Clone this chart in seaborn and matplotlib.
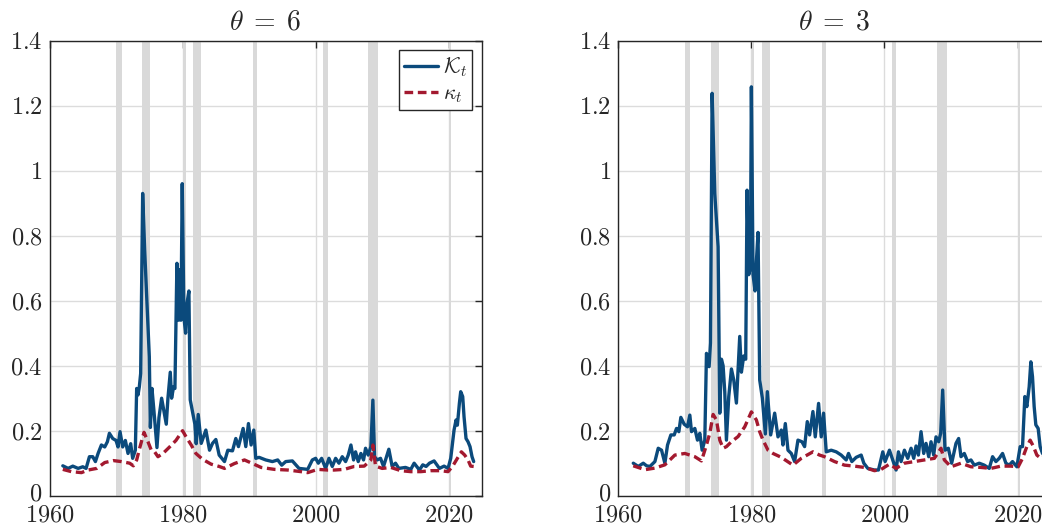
import numpy as np
import pandas as pd
import matplotlib
matplotlib.use("Agg")
import matplotlib.pyplot as plt
import matplotlib.transforms as mtransforms
import seaborn as sns

# ---------------- data ----------------
K6_year = [1962.0, 1962.8, 1963.5, 1964.3, 1965.0, 1965.5, 1966.0, 1966.5, 1966.9, 1967.3,
           1967.8, 1968.3, 1968.7, 1969.0, 1969.5, 1970.0, 1970.3, 1970.6, 1971.0, 1971.4,
           1971.8, 1972.2, 1972.5, 1972.9, 1973.1, 1973.3, 1973.5, 1973.7, 1974.0, 1974.3,
           1974.65, 1975.0, 1975.16, 1975.4, 1975.7, 1976.15, 1976.45, 1976.85, 1977.2, 1977.55,
           1977.8, 1978.15, 1978.35, 1978.65, 1978.85, 1979.15, 1979.4, 1979.55, 1979.75, 1979.95,
           1980.2, 1980.45, 1980.65, 1980.95, 1981.15, 1981.55, 1981.85, 1982.05, 1982.35, 1982.8,
           1983.5, 1984.05, 1984.5, 1985.0, 1985.5, 1986.3, 1986.8, 1987.5, 1988.0, 1988.4,
           1989.1, 1989.5, 1989.9, 1990.3, 1990.7, 1991.0, 1991.5, 1992.5, 1993.5, 1994.3,
           1994.9, 1995.5, 1996.5, 1997.5, 1998.8, 1999.5, 2000.0, 2000.4, 2000.9, 2001.5,
           2002.0, 2002.5, 2003.0, 2003.5, 2004.0, 2004.5, 2004.9, 2005.3, 2005.7, 2006.0,
           2006.4, 2006.8, 2007.2, 2007.5, 2007.9, 2008.3, 2008.6, 2008.85, 2009.25, 2009.75,
           2010.2, 2011.0, 2011.5, 2012.0, 2012.5, 2013.5, 2014.3, 2014.8, 2015.6, 2016.1,
           2016.6, 2017.1, 2017.8, 2018.6, 2019.3, 2019.9, 2020.3, 2020.8, 2021.1, 2021.3,
           2021.6, 2021.8, 2022.1, 2022.3, 2022.6, 2022.9, 2023.2, 2023.5, 2023.75]
K6_val = [0.092, 0.084, 0.091, 0.084, 0.089, 0.084, 0.12, 0.12, 0.105, 0.13,
          0.156, 0.15, 0.166, 0.192, 0.176, 0.17, 0.15, 0.197, 0.15, 0.17,
          0.13, 0.16, 0.115, 0.14, 0.33, 0.31, 0.335, 0.376, 0.93, 0.757,
          0.59, 0.428, 0.21, 0.33, 0.26, 0.148, 0.24, 0.30, 0.26, 0.22,
          0.30, 0.38, 0.30, 0.335, 0.33, 0.715, 0.54, 0.695, 0.54, 0.96,
          0.55, 0.50, 0.59, 0.63, 0.295, 0.253, 0.22, 0.16, 0.25, 0.161,
          0.202, 0.14, 0.161, 0.173, 0.125, 0.105, 0.14, 0.138, 0.176, 0.151,
          0.207, 0.151, 0.222, 0.156, 0.202, 0.115, 0.118, 0.11, 0.105, 0.11,
          0.094, 0.105, 0.107, 0.084, 0.081, 0.11, 0.115, 0.10, 0.115, 0.084,
          0.115, 0.09, 0.115, 0.10, 0.12, 0.105, 0.125, 0.156, 0.11, 0.135,
          0.105, 0.13, 0.11, 0.146, 0.125, 0.151, 0.294, 0.12, 0.11, 0.115,
          0.09, 0.143, 0.09, 0.10, 0.084, 0.087, 0.081, 0.10, 0.079, 0.095,
          0.09, 0.10, 0.107, 0.084, 0.091, 0.084, 0.115, 0.202, 0.233, 0.217,
          0.284, 0.32, 0.305, 0.243, 0.176, 0.166, 0.151, 0.12, 0.105]

k6_year = [1962.0, 1963.3, 1964.8, 1965.8, 1967.1, 1968.3, 1969.6, 1970.8, 1972.05, 1972.6,
           1973.1, 1973.6, 1974.2, 1974.8, 1975.3, 1975.8, 1976.3, 1977.05, 1978.05, 1979.0,
           1980.0, 1980.5, 1981.3, 1982.0, 1983.0, 1984.3, 1985.5, 1986.3, 1987.8, 1989.3,
           1990.5, 1991.8, 1993.8, 1995.8, 1997.8, 1998.8, 2000.3, 2001.8, 2002.8, 2004.3,
           2005.8, 2007.3, 2008.3, 2008.6, 2009.0, 2010.0, 2011.3, 2012.8, 2014.3, 2015.8,
           2017.3, 2018.8, 2019.9, 2020.6, 2021.3, 2021.9, 2022.4, 2022.9, 2023.3, 2023.75]
k6_val = [0.081, 0.074, 0.071, 0.079, 0.084, 0.102, 0.108, 0.105, 0.10, 0.092,
          0.11, 0.15, 0.195, 0.166, 0.14, 0.135, 0.12, 0.13, 0.15, 0.17,
          0.20, 0.182, 0.156, 0.13, 0.112, 0.097, 0.09, 0.084, 0.099, 0.11,
          0.099, 0.087, 0.081, 0.079, 0.074, 0.071, 0.081, 0.079, 0.079, 0.081,
          0.09, 0.091, 0.11, 0.156, 0.091, 0.084, 0.087, 0.077, 0.074, 0.074,
          0.077, 0.077, 0.074, 0.091, 0.115, 0.135, 0.125, 0.11, 0.091, 0.09]

K3_year = [1962.25, 1963.0, 1963.75, 1964.25, 1964.75, 1965.5, 1966.0, 1966.5, 1967.0, 1967.4,
           1967.9, 1968.4, 1968.75, 1969.1, 1969.4, 1969.9, 1970.4, 1970.75, 1971.0, 1971.5,
           1971.9, 1972.25, 1972.6, 1973.0, 1973.25, 1973.65, 1973.85, 1974.1, 1974.5, 1975.0,
           1975.25, 1975.5, 1975.75, 1976.0, 1976.25, 1976.6, 1977.0, 1977.35, 1977.75, 1978.25,
           1978.5, 1978.85, 1979.15, 1979.35, 1979.6, 1979.85, 1980.0, 1980.25, 1980.55, 1980.75,
           1981.0, 1981.25, 1981.65, 1982.1, 1982.4, 1982.9, 1983.5, 1984.0, 1984.5, 1984.75,
           1985.1, 1985.5, 1986.0, 1986.5, 1987.0, 1987.6, 1988.0, 1988.4, 1988.75, 1989.25,
           1989.6, 1990.1, 1990.5, 1990.85, 1991.25, 1992.0, 1992.75, 1993.5, 1994.25, 1994.6,
           1995.1, 1995.75, 1996.5, 1996.9, 1997.5, 1998.5, 1999.1, 1999.75, 2000.1, 2000.75,
           2001.25, 2001.75, 2002.1, 2002.5, 2003.0, 2003.5, 2004.0, 2004.4, 2004.75, 2005.1,
           2005.5, 2005.9, 2006.25, 2006.65, 2007.0, 2007.4, 2007.75, 2008.15, 2008.45, 2008.75,
           2009.1, 2009.6, 2010.1, 2010.75, 2011.15, 2011.5, 2012.0, 2012.5, 2013.0, 2013.5,
           2014.25, 2015.0, 2015.75, 2016.25, 2016.75, 2017.25, 2017.75, 2018.25, 2018.75, 2019.25,
           2019.9, 2020.4, 2020.75, 2021.1, 2021.4, 2021.75, 2022.0, 2022.25, 2022.5, 2022.75,
           2023.1, 2023.4, 2023.75]
K3_val = [0.10, 0.09, 0.10, 0.092, 0.09, 0.105, 0.146, 0.14, 0.10, 0.156,
          0.187, 0.187, 0.207, 0.197, 0.241, 0.22, 0.212, 0.248, 0.197, 0.207,
          0.171, 0.192, 0.14, 0.171, 0.438, 0.397, 0.47, 1.238, 0.93, 0.766,
          0.254, 0.42, 0.40, 0.32, 0.171, 0.305, 0.39, 0.356, 0.285, 0.49,
          0.38, 0.43, 0.42, 0.94, 0.68, 0.70, 1.258, 0.68, 0.63, 0.72,
          0.81, 0.356, 0.30, 0.19, 0.32, 0.187, 0.254, 0.181, 0.202, 0.156,
          0.222, 0.14, 0.13, 0.105, 0.171, 0.166, 0.151, 0.228, 0.187, 0.259,
          0.181, 0.284, 0.181, 0.254, 0.135, 0.14, 0.135, 0.125, 0.11, 0.13,
          0.105, 0.118, 0.125, 0.10, 0.084, 0.079, 0.079, 0.135, 0.105, 0.14,
          0.11, 0.079, 0.135, 0.105, 0.14, 0.115, 0.146, 0.115, 0.153, 0.125,
          0.197, 0.13, 0.161, 0.12, 0.166, 0.125, 0.181, 0.166, 0.192, 0.325,
          0.14, 0.146, 0.10, 0.161, 0.176, 0.12, 0.13, 0.105, 0.11, 0.094,
          0.10, 0.094, 0.084, 0.12, 0.105, 0.115, 0.13, 0.10, 0.094, 0.105,
          0.089, 0.151, 0.151, 0.305, 0.274, 0.335, 0.412, 0.366, 0.274, 0.218,
          0.207, 0.151, 0.13]

k3_year = [1962.25, 1964.0, 1965.5, 1967.0, 1968.5, 1970.0, 1971.5, 1972.5, 1973.25, 1973.75,
           1974.25, 1974.75, 1975.25, 1975.75, 1976.25, 1977.0, 1978.0, 1979.0, 1980.0, 1980.75,
           1981.25, 1981.75, 1982.5, 1983.25, 1984.5, 1986.25, 1987.5, 1989.25, 1990.25, 1991.0,
           1992.5, 1994.0, 1995.5, 1997.0, 1998.5, 1999.5, 2000.75, 2001.75, 2003.0, 2004.5,
           2006.0, 2007.5, 2008.5, 2009.0, 2010.0, 2011.5, 2013.0, 2014.5, 2016.0, 2017.5,
           2019.0, 2020.1, 2020.75, 2021.4, 2021.9, 2022.4, 2022.9, 2023.5, 2023.75]
k3_val = [0.092, 0.08, 0.085, 0.095, 0.125, 0.13, 0.12, 0.107, 0.156, 0.192,
          0.25, 0.233, 0.171, 0.146, 0.151, 0.166, 0.182, 0.212, 0.258, 0.233,
          0.197, 0.171, 0.14, 0.13, 0.118, 0.094, 0.115, 0.135, 0.125, 0.12,
          0.105, 0.094, 0.091, 0.087, 0.077, 0.081, 0.097, 0.084, 0.10, 0.105,
          0.11, 0.115, 0.146, 0.11, 0.089, 0.10, 0.089, 0.087, 0.084, 0.091,
          0.091, 0.089, 0.115, 0.151, 0.171, 0.151, 0.125, 0.115, 0.12]

rec_start = [1969.95, 1973.9, 1980.05, 1981.55, 1990.55, 2001.15, 2007.9, 2020.1]
rec_end = [1970.85, 1975.15, 1980.45, 1982.8, 1991.15, 2001.8, 2009.35, 2020.35]

titles = [r"$\theta\;=\;6$", r"$\theta\;=\;3$"]
y_ticks = [0, 0.2, 0.4, 0.6, 0.8, 1.0, 1.2, 1.4]
y_ticklabels = ["$0$", "$0.2$", "$0.4$", "$0.6$", "$0.8$", "$1$", "$1.2$", "$1.4$"]
x_ticks = [1960, 1980, 2000, 2020]
x_ticklabels = ["$1960$", "$1980$", "$2000$", "$2020$"]
legend_labels = [r"$\mathcal{K}_t$", r"$\kappa_t$"]

# ---------------- style ----------------
sns.set_theme(style="white")
plt.rcParams["font.family"] = ["cmr10", "DejaVu Serif"]
plt.rcParams["mathtext.fontset"] = "cm"
plt.rcParams["axes.formatter.use_mathtext"] = True
plt.rcParams["axes.unicode_minus"] = False

BLUE = "#0b4a7c"
RED = "#a3192f"
DARK = "#262626"
BAND = "#d9d9d9"
GRID = "#dcdcdc"

fig = plt.figure(figsize=(10.42, 5.31), dpi=100)
ax_w = 432.5 / 1042
ax_h = 455.0 / 531
ax_b = 1 - 495.7 / 531
axes = [fig.add_axes([49.5 / 1042, ax_b, ax_w, ax_h]),
        fig.add_axes([618.3 / 1042, ax_b, ax_w, ax_h])]

series = [((K6_year, K6_val), (k6_year, k6_val)),
          ((K3_year, K3_val), (k3_year, k3_val))]

for ax, title, ((Ky, Kv), (ky, kv)) in zip(axes, titles, series):
    for s, e in zip(rec_start, rec_end):
        ax.axvspan(s, e, color=BAND, lw=0, zorder=1)
    dK = pd.DataFrame({"year": Ky, "value": Kv})
    dk = pd.DataFrame({"year": ky, "value": kv})
    sns.lineplot(data=dK, x="year", y="value", ax=ax, color=BLUE, lw=2.4,
                 label=legend_labels[0], zorder=3, estimator=None)
    sns.lineplot(data=dk, x="year", y="value", ax=ax, color=RED, lw=2.4,
                 linestyle=(0, (2.6, 1.4)), label=legend_labels[1], zorder=3,
                 estimator=None)
    ax.set_xlim(1960, 2025)
    ax.set_ylim(0, 1.4)
    ax.set_xticks(x_ticks)
    ax.set_xticklabels(x_ticklabels)
    ax.set_yticks(y_ticks)
    ax.set_yticklabels(y_ticklabels)
    ax.set_xlabel("")
    ax.set_ylabel("")
    ax.grid(True, color=GRID, lw=1.0, zorder=0)
    ax.set_axisbelow(True)
    ax.tick_params(direction="in", length=5, width=1.0, top=True, right=True,
                   labelsize=17.5, colors=DARK)
    ax.tick_params(axis="y", pad=5)
    ax.tick_params(axis="x", pad=6)
    for sp in ax.spines.values():
        sp.set_color(DARK)
        sp.set_linewidth(1.0)
        sp.set_visible(True)
    ax.set_title(title, fontsize=20, color=DARK, pad=8)
    ax.set_facecolor("white")
    # lift the "0" label slightly so it clears the year labels below it
    zero_lab = ax.yaxis.get_major_ticks()[0].label1
    zero_lab.set_transform(zero_lab.get_transform() +
                           mtransforms.ScaledTranslation(0, 3 / 72, fig.dpi_scale_trans))

leg = axes[0].legend(loc="upper right", fontsize=15.5, frameon=True, fancybox=False,
                     edgecolor=DARK, framealpha=1, handlelength=1.6,
                     handletextpad=0.2, borderpad=0.25, labelspacing=0.2,
                     borderaxespad=0.45)
leg.get_frame().set_linewidth(1.0)
axes[1].get_legend().remove()

fig.savefig("out.png", dpi=100)
